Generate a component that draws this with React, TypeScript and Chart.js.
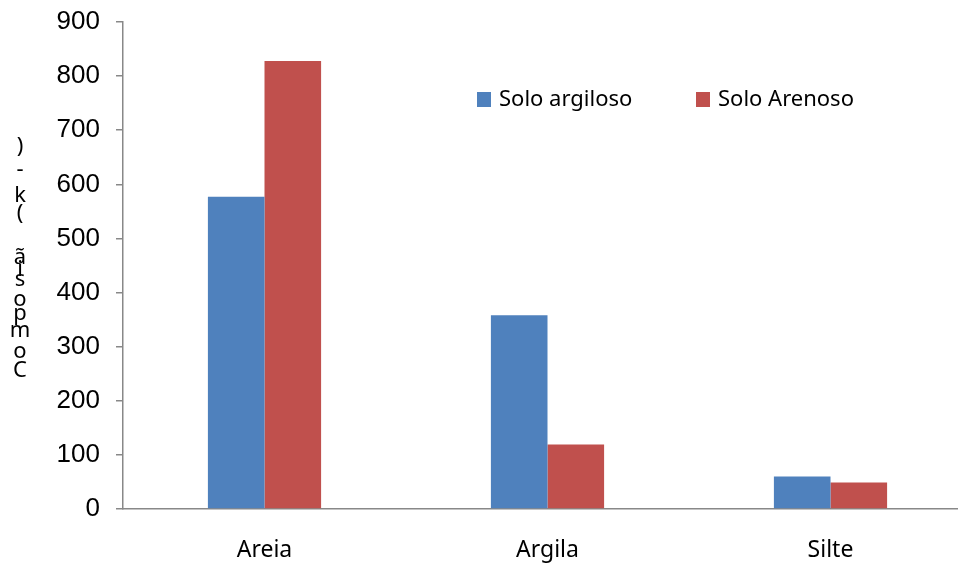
import React, { useEffect, useRef } from "react";
import { Chart, registerables } from "chart.js";

Chart.register(...registerables);

const categories = ["Areia", "Argila", "Silte"];
const soloArgiloso = [577, 358, 60];
const soloArenoso = [828, 119, 49];
const seriesNames = ["Solo argiloso", "Solo Arenoso"];
const seriesColors = ["#4F81BD", "#C0504D"];
const yTitleGlyphs = [")", "-", "k", "(", "ã", "i", "s", "o", "p", "m", "o", "C"];

export default function App() {
  const ref = useRef<HTMLCanvasElement>(null);
  useEffect(() => {
    if (!ref.current) return;
    const glyphY = [147, 170, 196, 214, 258, 270, 280, 300, 314, 331, 352, 371];
    const extras = {
      id: "extras",
      afterDraw(chart: any) {
        const ctx = chart.ctx;
        ctx.save();
        ctx.fillStyle = "#000";
        ctx.font = "22px 'Noto Sans'";
        ctx.textAlign = "center";
        ctx.textBaseline = "middle";
        yTitleGlyphs.forEach((g, i) => ctx.fillText(g, 20, glyphY[i]));
        // legend
        const lx = [477, 696];
        ctx.font = "22px 'Noto Sans'";
        ctx.textAlign = "left";
        chart.data.datasets.forEach((ds: any, i: number) => {
          ctx.fillStyle = ds.backgroundColor;
          ctx.fillRect(lx[i], 92, 14, 15);
          ctx.fillStyle = "#000";
          ctx.fillText(ds.label, lx[i] + 22, 100);
        });
        ctx.restore();
      },
    };
    const chart = new Chart(ref.current, {
      type: "bar",
      data: {
        labels: categories,
        datasets: [
          { label: seriesNames[0], data: soloArgiloso, backgroundColor: seriesColors[0] },
          { label: seriesNames[1], data: soloArenoso, backgroundColor: seriesColors[1] },
        ],
      },
      options: {
        animation: false,
        responsive: false,
        maintainAspectRatio: false,
        layout: { padding: { top: 22, right: 0, left: 0, bottom: 0 } },
        datasets: { bar: { categoryPercentage: 0.4, barPercentage: 1 } },
        plugins: { legend: { display: false }, tooltip: { enabled: false } },
        scales: {
          x: {
            grid: { display: false, drawTicks: false },
            border: { display: true, color: "#888", width: 1.5 },
            ticks: { color: "#000", font: { family: "'Noto Sans'", size: 23 }, padding: 28 },
            afterFit(s: any) { s.height = 56; s.paddingLeft = 0; s.paddingRight = 0; },
          },
          y: {
            min: 0,
            max: 900,
            ticks: { stepSize: 100, color: "#000", font: { family: "'Liberation Sans'", size: 26 }, padding: 16 },
            grid: { drawOnChartArea: false, drawTicks: true, tickLength: 7, color: "#888", lineWidth: 1.5 },
            border: { display: true, color: "#888", width: 1.5 },
            afterFit(s: any) { s.width = 123; s.paddingTop = 0; s.paddingBottom = 0; },
          },
        },
      },
      plugins: [extras],
    });
    return () => chart.destroy();
  }, []);
  return (
    <div style={{ position: "fixed", left: 0, top: 0, width: 958, height: 565, overflow: "hidden", background: "#fff" }}>
      <canvas ref={ref} width={972} height={565} style={{ display: "block" }} />
    </div>
  );
}
